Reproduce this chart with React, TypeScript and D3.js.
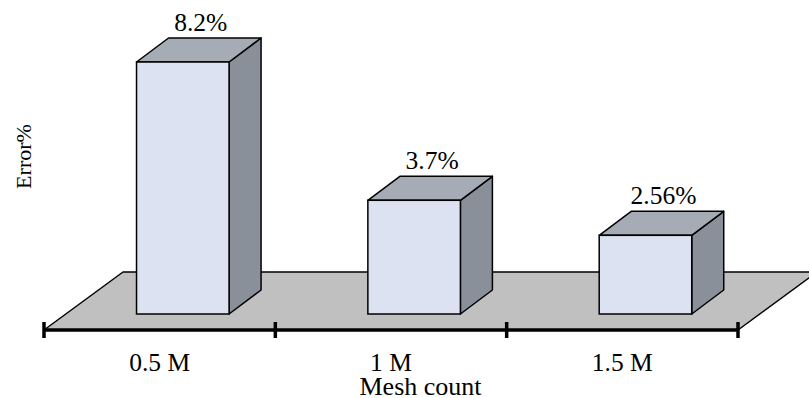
import React from "react";
import * as d3 from "d3";

// Mesh sizes on the x axis and relative error (%) for each
const categories: string[] = ["0.5 M", "1 M", "1.5 M"];
const errorValues: number[] = [8.2, 3.7, 2.56];
const valueLabels: string[] = ["8.2%", "3.7%", "2.56%"];
const xTitle = "Mesh count";
const yTitle = "Error%";

const W = 809;
const H = 398;

// 3D projection offsets
const BAR_DX = 32;
const BAR_DY = -24;
const FLOOR_DX = 79;
const FLOOR_DY = -58;

const FONT = "'Liberation Serif', 'Times New Roman', serif";

export default function App() {
  const axisY = 330;
  const x = d3.scaleBand<string>().domain(categories).range([44, 738]).paddingInner(0).paddingOuter(0);
  const y = d3.scaleLinear().domain([0, 8.2]).range([314, 62]);
  const step = x.step();
  const frontW = step * 0.4;

  const tickXs = [...categories.map((c) => x(c) as number), 738];

  const floor = [
    [44, axisY],
    [44 + FLOOR_DX, axisY + FLOOR_DY],
    [738 + FLOOR_DX, axisY + FLOOR_DY],
    [738, axisY],
  ];
  const poly = (pts: number[][]) => pts.map((p) => p.join(",")).join(" ");

  return (
    <svg width={W} height={H} style={{ position: "absolute", left: 0, top: 0, background: "#fff" }}>
      {/* floor */}
      <polygon points={poly(floor)} fill="#c0c0c0" stroke="#000" strokeWidth={1.5} strokeLinejoin="round" />

      {/* bars */}
      {categories.map((c, i) => {
        const x0 = (x(c) as number) + step * 0.4;
        const x1 = x0 + frontW;
        const yt = y(errorValues[i]);
        const yb = y(0);
        const top = [
          [x0, yt],
          [x0 + BAR_DX, yt + BAR_DY],
          [x1 + BAR_DX, yt + BAR_DY],
          [x1, yt],
        ];
        const side = [
          [x1, yt],
          [x1 + BAR_DX, yt + BAR_DY],
          [x1 + BAR_DX, yb + BAR_DY],
          [x1, yb],
        ];
        const cx = (x0 + x1 + BAR_DX) / 2 + 2;
        return (
          <g key={c}>
            <polygon points={poly(side)} fill="#8a9099" stroke="#000" strokeWidth={1.5} strokeLinejoin="round" />
            <polygon points={poly(top)} fill="#a5acb6" stroke="#000" strokeWidth={1.5} strokeLinejoin="round" />
            <rect x={x0} y={yt} width={frontW} height={yb - yt} fill="#dce2f1" stroke="#000" strokeWidth={1.5} />
            <text x={cx} y={yt + BAR_DY - 7} textAnchor="middle" fontFamily={FONT} fontSize={25.5} fill="#000">
              {valueLabels[i]}
            </text>
          </g>
        );
      })}

      {/* x axis */}
      <line x1={44} x2={738} y1={axisY} y2={axisY} stroke="#000" strokeWidth={3.5} />
      {tickXs.map((tx, i) => (
        <line key={i} x1={tx} x2={tx} y1={axisY - 8} y2={axisY + 8} stroke="#000" strokeWidth={3.5} />
      ))}
      {categories.map((c) => (
        <text
          key={c}
          x={(x(c) as number) + step / 2}
          y={371}
          textAnchor="middle"
          fontFamily={FONT}
          fontSize={25.5}
          fill="#000"
        >
          {c}
        </text>
      ))}
      <text x={420.5} y={395} textAnchor="middle" fontFamily={FONT} fontSize={26} fill="#000">
        {xTitle}
      </text>

      {/* y axis title */}
      <text
        transform={`translate(31,156.5) rotate(-90)`}
        textAnchor="middle"
        fontFamily={FONT}
        fontSize={22}
        fill="#000"
      >
        {yTitle}
      </text>
    </svg>
  );
}
